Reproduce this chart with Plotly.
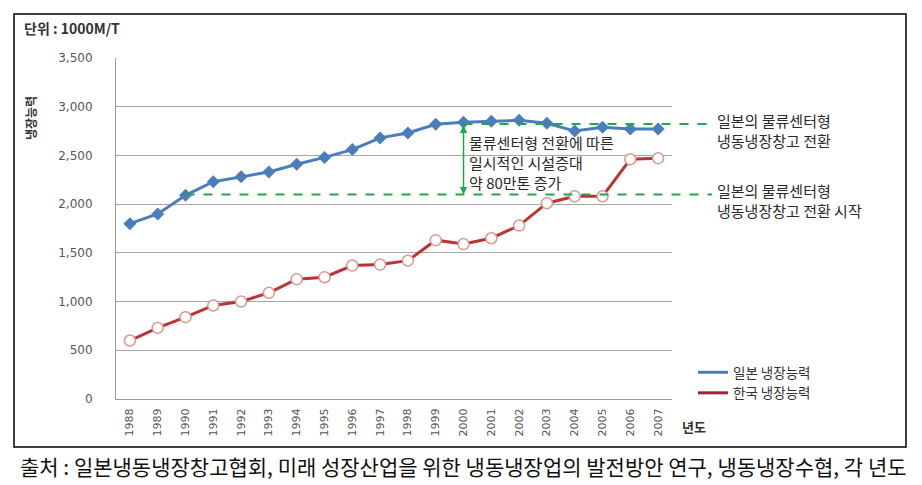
import plotly.graph_objects as go

years = [str(y) for y in range(1988, 2008)]
japan = [1800, 1900, 2090, 2230, 2280, 2330, 2410, 2480, 2560, 2680,
         2730, 2820, 2840, 2850, 2860, 2830, 2750, 2790, 2770, 2770]
korea = [600, 730, 840, 960, 1000, 1090, 1230, 1250, 1370, 1380,
         1420, 1630, 1590, 1650, 1780, 2010, 2080, 2080, 2460, 2470]
yticks = [0, 500, 1000, 1500, 2000, 2500, 3000, 3500]
level_start = 2100   # 1990 level
level_after = 2823   # 2000 level

W, H = 922, 485
L, R, T, B = 116, 672, 58, 399


def px(x):
    return (x - L) / (R - L)


def py(y):
    return (B - y) / (B - T)


blue = "#4A7EBB"
red = "#BA3434"

fig = go.Figure()
fig.add_trace(go.Scatter(
    x=years, y=japan, name="일본 냉장능력", mode="lines+markers", showlegend=False,
    line=dict(color=blue, width=3),
    marker=dict(symbol="diamond", size=10, color=blue),
))
fig.add_trace(go.Scatter(
    x=years, y=korea, name="한국 냉장능력", mode="lines+markers", showlegend=False,
    line=dict(color=red, width=3),
    marker=dict(symbol="circle", size=11, color="white",
                line=dict(color="#D99694", width=1.5)),
))
# legend entries (line only, as in the reference)
fig.add_trace(go.Scatter(x=[None], y=[None], name="일본 냉장능력", mode="lines",
                         line=dict(color=blue, width=3)))
fig.add_trace(go.Scatter(x=[None], y=[None], name="한국 냉장능력", mode="lines",
                         line=dict(color="#A3212B", width=3)))

green = "#1FA84A"
n = len(years)
i2000 = years.index("2000")
i1990 = years.index("1990")
fig.add_shape(type="line", xref="paper", yref="y",
              x0=(i2000 + 0.5) / n, x1=px(712), y0=level_after, y1=level_after,
              line=dict(color=green, width=2, dash="dash"))
fig.add_shape(type="line", xref="paper", yref="y",
              x0=(i1990 + 0.5) / n, x1=px(712), y0=level_start, y1=level_start,
              line=dict(color=green, width=2, dash="dash"))
# outer frame
fig.add_shape(type="rect", xref="paper", yref="paper",
              x0=px(14), x1=px(906), y0=py(447), y1=py(14),
              line=dict(color="black", width=1.5))

fig.add_annotation(x=i2000, y=level_start, xref="x", yref="y",
                   ax=i2000, ay=level_after, axref="x", ayref="y",
                   showarrow=True, arrowhead=2, arrowside="end+start",
                   arrowsize=1, arrowwidth=1.5, arrowcolor=green, text="")

txt_font = dict(family="Noto Sans CJK KR", size=15, color="#2A2A2A")


def text_lines(x, ys, lines):
    for yy, s in zip(ys, lines):
        fig.add_annotation(xref="paper", yref="paper", x=px(x), y=py(yy),
                           xanchor="left", yanchor="middle", showarrow=False,
                           text=s, font=txt_font, borderpad=0)


text_lines(468, [142, 162, 182], ["물류센터형 전환에 따른", "일시적인 시설증대", "약 80만톤 증가"])
text_lines(716, [120.5, 140.5], ["일본의 물류센터형", "냉동냉장창고 전환"])
text_lines(716, [190, 210], ["일본의 물류센터형", "냉동냉장창고 전환 시작"])

fig.add_annotation(xref="paper", yref="paper", x=px(22), y=py(28),
                   xanchor="left", yanchor="middle", showarrow=False,
                   text="<b>단위 : 1000M/T</b>",
                   font=dict(family="Noto Sans CJK KR", size=14, color="#333333"))
fig.add_annotation(xref="paper", yref="paper", x=px(31), y=py(118),
                   xanchor="center", yanchor="middle", showarrow=False, textangle=-90,
                   text="<b>냉장능력</b>",
                   font=dict(family="Noto Sans CJK KR", size=12, color="#333333"))
fig.add_annotation(xref="paper", yref="paper", x=px(680), y=py(426),
                   xanchor="left", yanchor="middle", showarrow=False,
                   text="<b>년도</b>",
                   font=dict(family="Noto Sans CJK KR", size=13, color="#333333"))
fig.add_annotation(xref="paper", yref="paper", x=px(18), y=py(466),
                   xanchor="left", yanchor="middle", showarrow=False,
                   text="출처 : 일본냉동냉장창고협회, 미래 성장산업을 위한 냉동냉장업의 발전방안 연구, 냉동냉장수협, 각 년도",
                   font=dict(family="Noto Sans CJK KR", size=21, color="#111111"))

fig.update_layout(
    width=W, height=H,
    margin=dict(l=L, r=W - R, t=T, b=H - B, autoexpand=False),
    paper_bgcolor="white", plot_bgcolor="white",
    showlegend=True,
    legend=dict(x=px(693), y=py(357), xanchor="left", yanchor="top",
                font=dict(family="Noto Sans CJK KR", size=13.5, color="#333333"),
                tracegroupgap=0, bgcolor="rgba(0,0,0,0)", borderwidth=0),
    font=dict(family="DejaVu Sans"),
)
fig.update_xaxes(type="category", range=[-0.5, n - 0.5], showgrid=False, showline=True,
                 linecolor="#999999", linewidth=1, tickangle=-90, ticks="",
                 ticklabelstandoff=4,
                 tickfont=dict(family="DejaVu Sans", size=11, color="#555555"),
                 mirror=False, zeroline=False)
fig.update_yaxes(range=[0, 3500], tickvals=yticks, tickformat=",", showgrid=True,
                 gridcolor="#A6A6A6", gridwidth=1, showline=True, linecolor="#999999",
                 linewidth=1, ticks="", ticklabelstandoff=20, zeroline=False,
                 tickfont=dict(family="DejaVu Sans", size=12, color="#555555"))

fig.write_html("out.html")
